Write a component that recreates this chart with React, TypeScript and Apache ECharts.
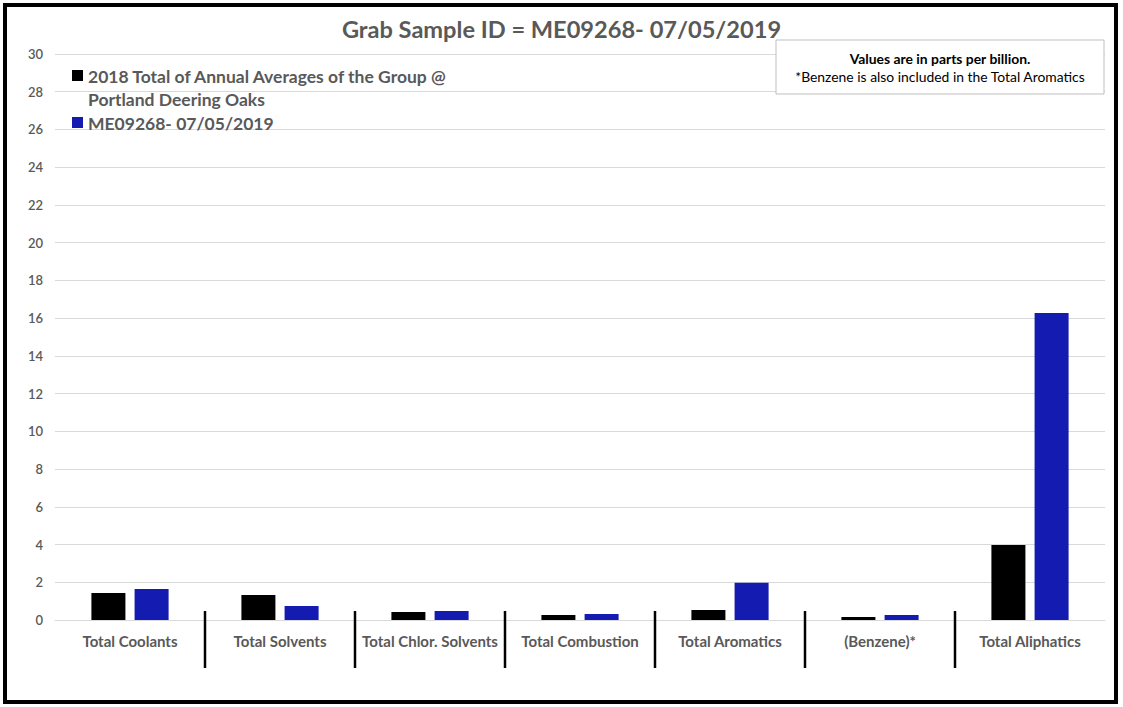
import React, { useEffect, useRef } from "react";
import * as echarts from "echarts";

const TITLE = "Grab Sample ID = ME09268- 07/05/2019";
const categories = [
  "Total Coolants",
  "Total Solvents",
  "Total Chlor. Solvents",
  "Total Combustion",
  "Total Aromatics",
  "(Benzene)*",
  "Total Aliphatics",
];
const seriesNames = [
  "2018 Total of Annual Averages of the Group @ Portland Deering Oaks",
  "ME09268- 07/05/2019",
];
const legendLines = [
  ["2018 Total of Annual Averages of the Group @", "Portland Deering Oaks"],
  ["ME09268- 07/05/2019"],
];
const annualAverages = [1.43, 1.32, 0.42, 0.26, 0.53, 0.16, 3.98];
const sampleValues = [1.64, 0.74, 0.48, 0.32, 1.98, 0.27, 16.27];
const colors = ["#000000", "#141bb0"];
const noteLines = ["Values are in parts per billion.", "*Benzene is also included in the Total Aromatics"];

const FONT = "Lato, 'DejaVu Sans', sans-serif";

export default function App() {
  const ref = useRef<HTMLDivElement>(null);
  useEffect(() => {
    if (!ref.current) return;
    const chart = echarts.init(ref.current, null, { renderer: "svg" });
    const gray = "#595959";
    const option: any = {
      animation: false,
      backgroundColor: "#ffffff",
      title: {
        text: TITLE,
        left: "center",
        top: 12,
        textStyle: { fontFamily: FONT, fontWeight: "bold", fontSize: 23.6, color: gray },
      },
      grid: { left: 55, right: 18, top: 54, bottom: 87 },
      xAxis: {
        type: "category",
        data: categories,
        axisLine: { show: true, lineStyle: { color: "#d9d9d9", width: 1 } },
        axisTick: { show: false },
        axisLabel: {
          fontFamily: FONT,
          fontWeight: "bold",
          fontSize: 15,
          color: gray,
          margin: 13,
          interval: 0,
        },
      },
      yAxis: {
        type: "value",
        min: 0,
        max: 30,
        interval: 2,
        axisLine: { show: false },
        axisTick: { show: false },
        splitLine: { lineStyle: { color: "#d9d9d9", width: 1 } },
        axisLabel: { fontFamily: FONT, fontSize: 13, color: gray, margin: 12, fontWeight: 600 },
      },
      series: [
        {
          name: seriesNames[0],
          type: "bar",
          data: annualAverages,
          barWidth: 34,
          barGap: "27%",
          itemStyle: { color: colors[0] },
        },
        {
          name: seriesNames[1],
          type: "bar",
          data: sampleValues,
          barWidth: 34,
          barGap: "27%",
          itemStyle: { color: colors[1] },
        },
      ],
    };
    chart.setOption(option);

    // divider lines between categories, located via the axis scale
    const graphics: any[] = [];
    const y0 = chart.convertToPixel({ yAxisIndex: 0 }, 0) as number;
    for (let i = 0; i < categories.length - 1; i++) {
      const a = chart.convertToPixel({ xAxisIndex: 0 }, categories[i]) as number;
      const b = chart.convertToPixel({ xAxisIndex: 0 }, categories[i + 1]) as number;
      const x = (a + b) / 2;
      graphics.push({
        type: "line",
        shape: { x1: x, y1: y0 - 9, x2: x, y2: y0 + 48 },
        style: { stroke: "#000000", lineWidth: 2.5 },
        z: 10,
      });
    }
    // legend
    let ly = 76;
    legendLines.forEach((lines, i) => {
      graphics.push({
        type: "rect",
        shape: { x: 72, y: ly - 6, width: 11, height: 11 },
        style: { fill: colors[i] },
        z: 10,
      });
      lines.forEach((t, j) => {
        graphics.push({
          type: "text",
          x: 88,
          y: ly + j * 23,
          style: {
            text: t,
            fontFamily: FONT,
            fontWeight: "bold",
            fontSize: 17.5,
            fill: "#595959",
            verticalAlign: "middle",
            align: "left",
          },
          z: 10,
        });
      });
      ly += lines.length * 23 + 1;
    });
    // note box
    graphics.push({
      type: "rect",
      shape: { x: 776, y: 40, width: 328, height: 54 },
      style: { fill: "#ffffff", stroke: "#bfbfbf", lineWidth: 1 },
      z: 10,
    });
    noteLines.forEach((t, i) => {
      graphics.push({
        type: "text",
        x: 940,
        y: 58 + i * 18,
        style: {
          text: t,
          fontFamily: FONT,
          fontWeight: i === 0 ? "bold" : "normal",
          fontSize: 13.9,
          fill: "#000000",
          align: "center",
          verticalAlign: "middle",
        },
        z: 11,
      });
    });
    // outer border
    graphics.push({
      type: "rect",
      shape: { x: 5, y: 5, width: 1111, height: 697 },
      style: { fill: "none", stroke: "#000000", lineWidth: 4 },
      z: 12,
    });
    chart.setOption({ graphic: graphics });
    return () => chart.dispose();
  }, []);
  return (
    <div
      ref={ref}
      style={{ position: "fixed", left: 0, top: 0, width: 1123, height: 707 }}
    />
  );
}
